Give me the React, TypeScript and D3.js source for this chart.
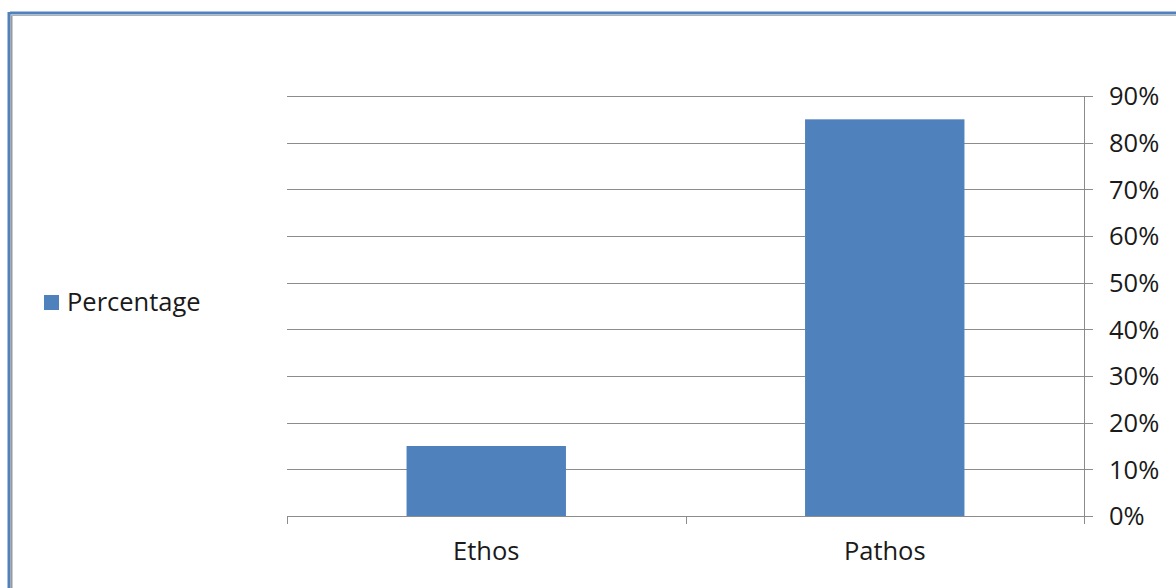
import React from "react";
import * as d3 from "d3";

const categories = ["Ethos", "Pathos"];
const values = [0.15, 0.85];
const tickValues = [0, 0.1, 0.2, 0.3, 0.4, 0.5, 0.6, 0.7, 0.8, 0.9];
const seriesName = "Percentage";

const W = 1176;
const H = 588;
const left = 287;
const right = 1084;
const top = 96;
const bottom = 516;
const barColor = "#4F81BD";
const gridColor = "#8c8c8c";
const font = "'Open Sans', sans-serif";
const fontSize = 25.5;

export default function App() {
  const x = d3.scaleBand<string>().domain(categories).range([left, right]).paddingInner(0.6).paddingOuter(0.3);
  const y = d3.scaleLinear().domain([0, 0.9]).range([bottom, top]);
  const xBounds = d3.scaleBand<string>().domain(categories).range([left, right]);
  const fmt = d3.format(".0%");

  return (
    <svg width={W} height={H} style={{ position: "absolute", left: 0, top: 0, background: "#fff" }}>
      {/* frame */}
      <rect x={0} y={0} width={W} height={H} fill="#fff" />
      <line x1={10} y1={13} x2={W} y2={13} stroke="#4F81BD" strokeWidth={3} />
      <line x1={9} y1={12} x2={9} y2={H} stroke="#4F81BD" strokeWidth={3} />
      <line x1={11.5} y1={15} x2={11.5} y2={H} stroke="#9a9a9a" strokeWidth={2} />
      <line x1={11} y1={15.5} x2={W} y2={15.5} stroke="#b0b0b0" strokeWidth={1} />

      {/* gridlines and right axis ticks */}
      {tickValues.map((t) => (
        <g key={t}>
          <line x1={left} x2={right + 9} y1={Math.round(y(t)) + 0.5} y2={Math.round(y(t)) + 0.5} stroke={gridColor} strokeWidth={1} />
          <text x={1109} y={y(t)} dy="0.36em" fontFamily={font} fontSize={fontSize} fill="#1a1a1a">
            {fmt(t)}
          </text>
        </g>
      ))}
      <line x1={right + 0.5} x2={right + 0.5} y1={top} y2={bottom + 8} stroke={gridColor} strokeWidth={1} />

      {/* category boundary ticks */}
      {[left, ...categories.map((c) => (xBounds(c) as number) + xBounds.bandwidth())].map((bx, i) => (
        <line key={i} x1={Math.round(bx) + 0.5} x2={Math.round(bx) + 0.5} y1={bottom} y2={bottom + 8} stroke={gridColor} strokeWidth={1} />
      ))}

      {/* bars */}
      {categories.map((c, i) => (
        <rect key={c} x={x(c)} y={y(values[i])} width={x.bandwidth()} height={bottom - y(values[i])} fill={barColor} />
      ))}

      {/* category labels */}
      {categories.map((c) => (
        <text key={c} x={(x(c) as number) + x.bandwidth() / 2} y={560} textAnchor="middle" fontFamily={font} fontSize={fontSize} fill="#1a1a1a">
          {c}
        </text>
      ))}

      {/* legend */}
      <rect x={44} y={295} width={15} height={15} fill={barColor} />
      <text x={67} y={311} fontFamily={font} fontSize={fontSize} fill="#1a1a1a">
        {seriesName}
      </text>
    </svg>
  );
}
